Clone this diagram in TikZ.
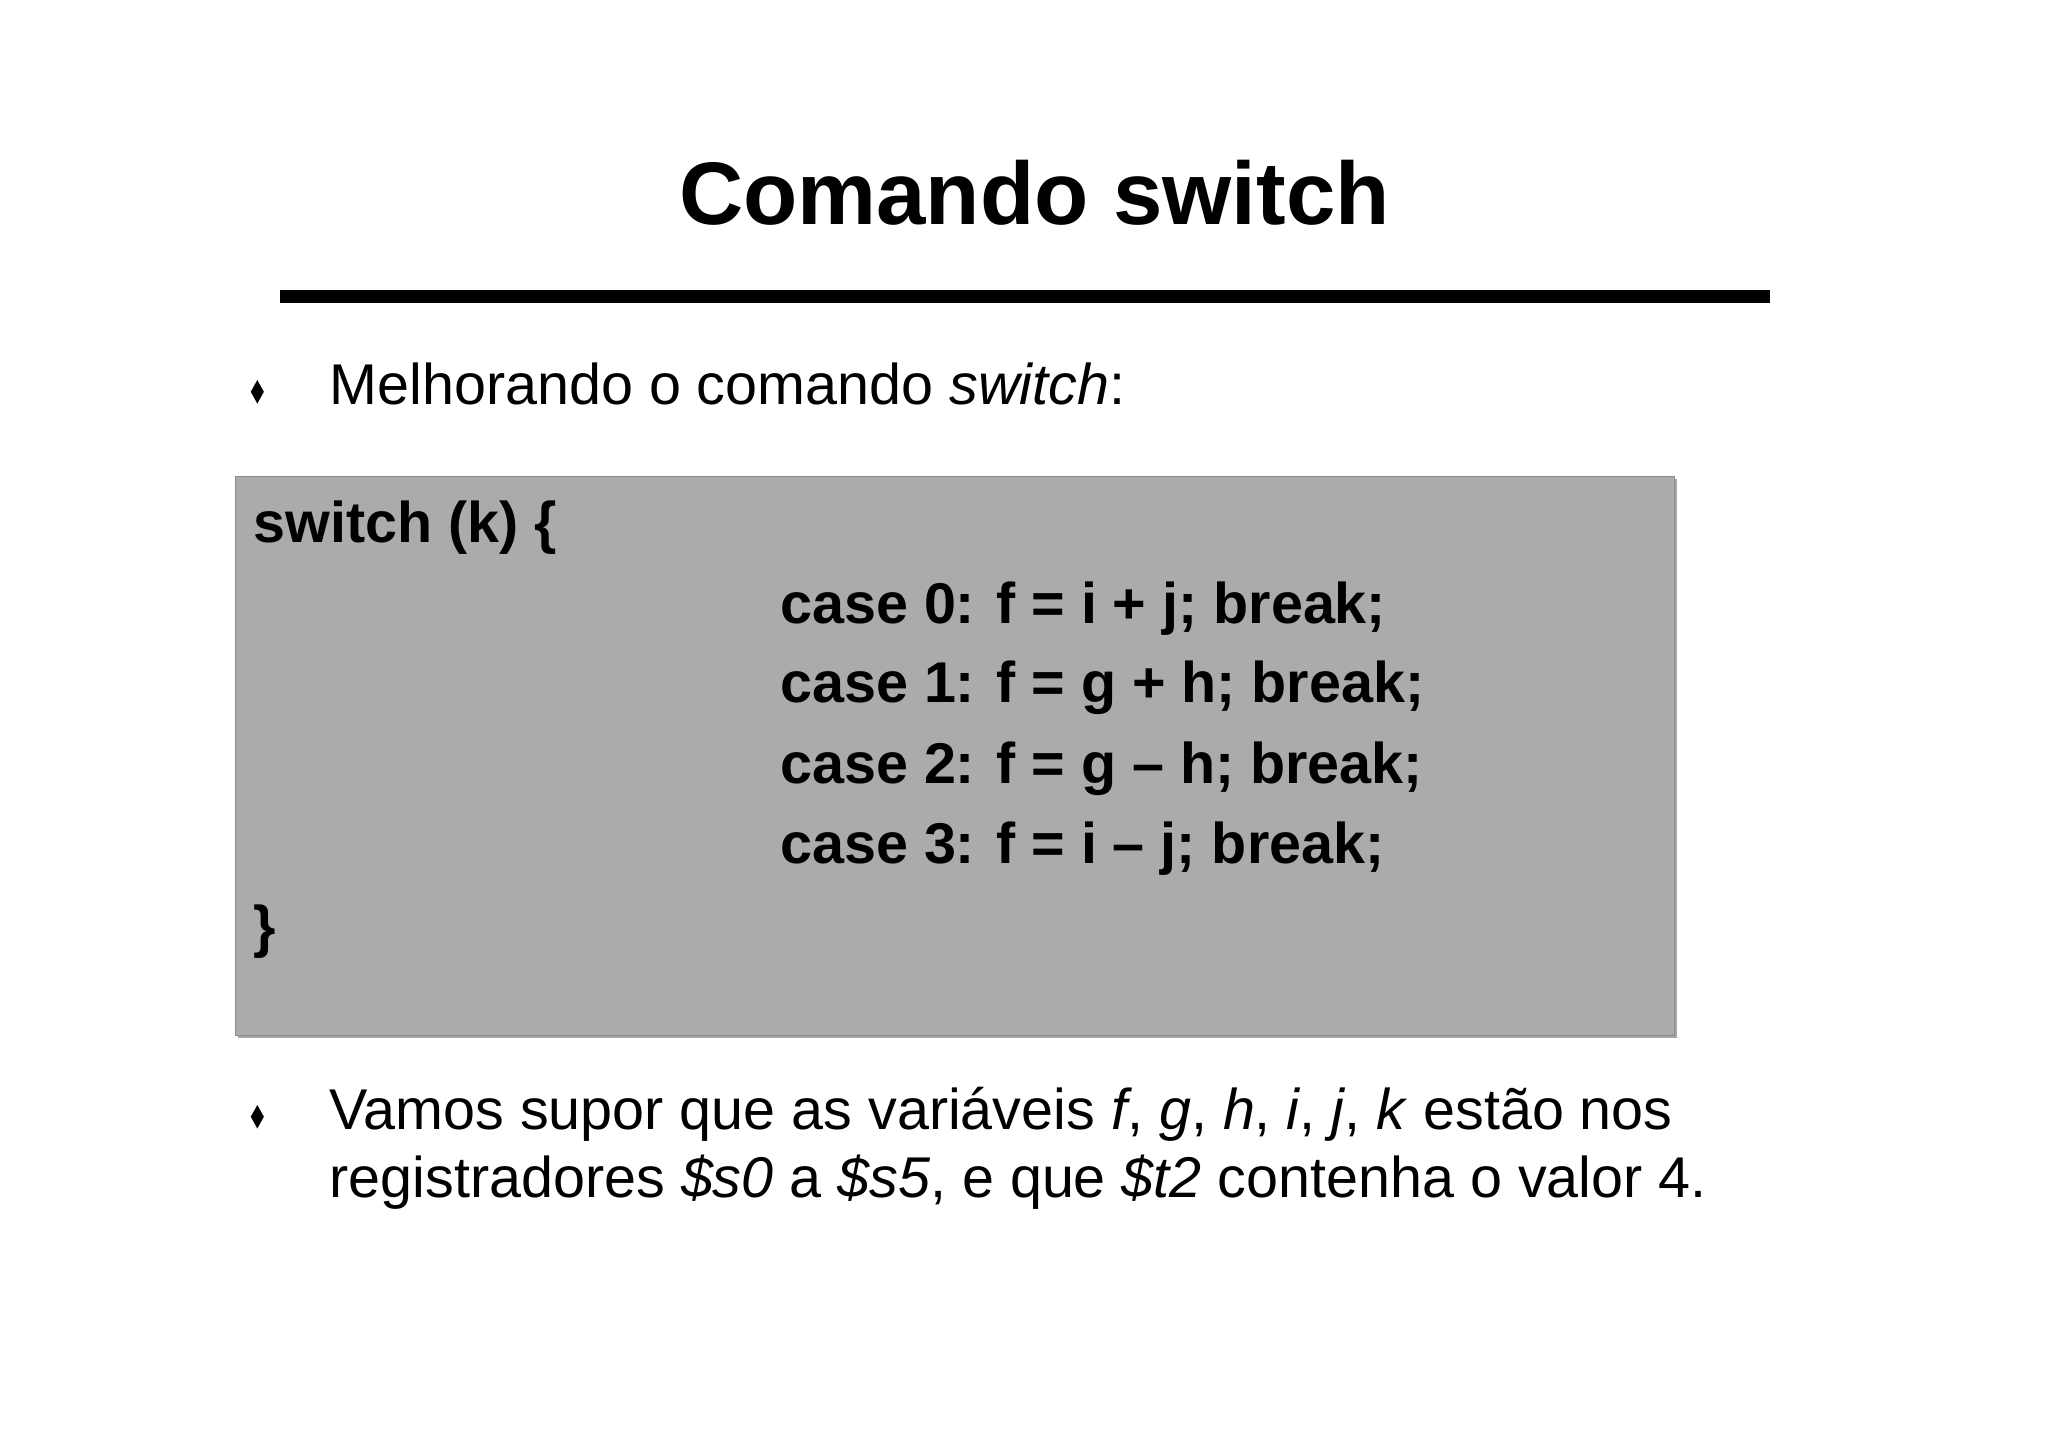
\documentclass[tikz,border=0pt]{standalone}
\usepackage{fontspec}
\setmainfont{Liberation Sans}
\begin{document}
\begin{tikzpicture}[x=0.5pt,y=-0.5pt,
  txt/.style={anchor=base west,inner sep=0pt,font=\fontsize{22}{26}\selectfont},
  code/.style={anchor=base west,inner sep=0pt,font=\fontsize{22}{26}\selectfont\bfseries},
  bul/.style={fill=black}]
\useasboundingbox[fill=white] (0,0) rectangle (1568,1108);
\node[anchor=base,inner sep=0pt,font=\fontsize{34}{40}\selectfont\bfseries] (title) at (792,172) {Comando switch};
\fill (214,222) rectangle (1355,232);
\fill[bul] (197,291) -- (202,300) -- (197,309) -- (192,300) -- cycle;
\node[txt] (b1) at (252,310) {Melhorando o comando \textit{switch}:};
\fill[gray!70] (182,367) rectangle (1284,795);
\draw[fill=black!33,draw=black!45] (180,365) rectangle (1282,793);
\node[code] (c0) at (194,415) {switch (k) \{};
\node[code] (c1) at (597,477) {case 0: f = i + j; break;};
\node[code] (c2) at (597,538) {case 1: f = g + h; break;};
\node[code] (c3) at (597,600) {case 2: f = g – h; break;};
\node[code] (c4) at (597,661) {case 3: f = i – j; break;};
\node[code] (c5) at (194,725) {\}};
\fill[bul] (197,846) -- (202,855) -- (197,864) -- (192,855) -- cycle;
\node[txt] (b2) at (252,865) {Vamos supor que as variáveis \textit{f}, \textit{g}, \textit{h}, \textit{i}, \textit{j}, \textit{k} estão nos};
\node[txt] (b3) at (252,917) {registradores \textit{\$s0} a \textit{\$s5}, e que \textit{\$t2} contenha o valor 4.};
\end{tikzpicture}
\end{document}
